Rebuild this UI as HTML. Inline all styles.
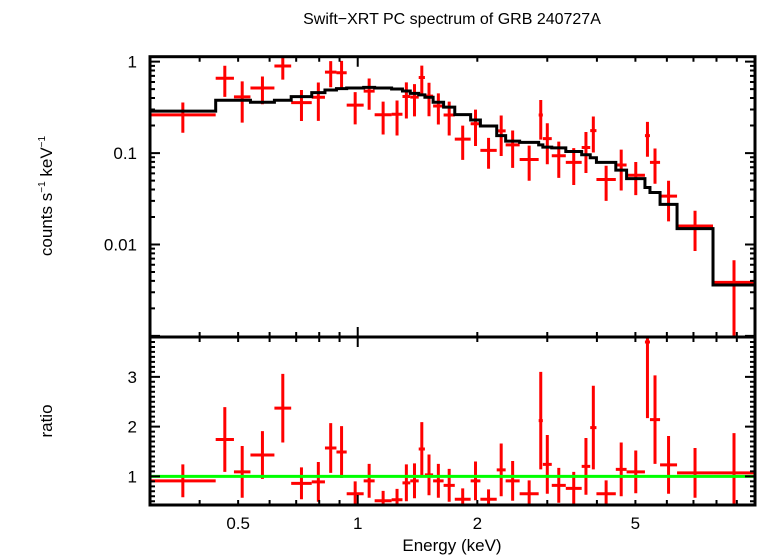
<!DOCTYPE html>
<html><head><meta charset="utf-8"><style>
html,body{margin:0;padding:0;background:#fff;}
svg{display:block;font-family:"Liberation Sans",sans-serif;}
</style></head><body>
<svg id="chart" width="758" height="556" viewBox="0 0 758 556" xmlns="http://www.w3.org/2000/svg">
<text x="452" y="24" text-anchor="middle" font-size="16">Swift−XRT PC spectrum of GRB 240727A</text>
<text transform="translate(52,196) rotate(-90)" text-anchor="middle" font-size="17">counts s<tspan font-size="10" dy="-7">−1</tspan><tspan dy="7"> keV</tspan><tspan font-size="10" dy="-7">−1</tspan></text>
<text transform="translate(52,421) rotate(-90)" text-anchor="middle" font-size="17">ratio</text>
<text x="452" y="551" text-anchor="middle" font-size="17">Energy (keV)</text>
<g id="g"></g>
</svg>
<script>
const binEdges=[0.30,0.439,0.488,0.537,0.617,0.680,0.766,0.827,0.884,0.938,1.035,1.103,1.217,1.296,1.356,1.424,1.476,1.548,1.645,1.755,1.924,2.036,2.238,2.357,2.556,2.854,2.924,3.079,3.340,3.662,3.848,3.989,4.463,4.751,5.284,5.440,5.768,6.365,7.84,10];
const modelValues=[0.288,0.378,0.378,0.36,0.378,0.415,0.459,0.49,0.507,0.515,0.523,0.515,0.502,0.478,0.45,0.433,0.408,0.36,0.318,0.263,0.23,0.198,0.155,0.135,0.131,0.123,0.116,0.114,0.104,0.096,0.089,0.079,0.065,0.0525,0.042,0.037,0.0275,0.0149,0.0036];
const ratioValues=[0.91,1.74,1.09,1.43,2.37,0.86,0.89,1.57,1.49,0.65,0.91,0.51,0.53,0.87,0.91,1.55,1.03,0.91,0.82,0.54,0.91,0.54,1.13,0.91,0.65,2.12,1.24,0.82,0.76,1.2,1.98,0.65,1.14,1.09,3.7,2.14,1.23,1.07,1.07];
const ratioErrors=[0.33,0.65,0.52,0.48,0.69,0.32,0.4,0.5,0.52,0.25,0.34,0.2,0.22,0.37,0.35,0.54,0.41,0.34,0.33,0.22,0.39,0.2,0.53,0.4,0.27,0.98,0.59,0.35,0.33,0.57,0.84,0.27,0.54,0.43,1.53,0.89,0.58,0.5,0.8];
const xTickLabels=[0.5,1,2,5];
const yTopTickLabels=[1,0.1,0.01];
const yBotTickLabels=[1,2,3];

const X0=150,X1=755,TT=56.7,TB=337,BT=337,BB=505;
const xMin=0.3,xMax=10;
const yTopMin=0.000973,yTopMax=1.133;
const rMin=0.425,rMax=3.8;
const xs=e=>X0+(Math.log10(e)-Math.log10(xMin))/(Math.log10(xMax)-Math.log10(xMin))*(X1-X0);
const yt=v=>TB-(Math.log10(v)-Math.log10(yTopMin))/(Math.log10(yTopMax)-Math.log10(yTopMin))*(TB-TT);
const yb=v=>BB-(v-rMin)/(rMax-rMin)*(BB-BT);
const NS='http://www.w3.org/2000/svg';
const g=document.getElementById('g');
function mk(tag,attrs,parent){const el=document.createElementNS(NS,tag);for(const k in attrs)el.setAttribute(k,attrs[k]);(parent||g).appendChild(el);return el;}
const clampT=y=>Math.max(TT,Math.min(TB,y));
const clampB=y=>Math.max(BT,Math.min(BB,y));

// data crosses
const dataG=mk('g',{});


for(let i=0;i<ratioValues.length;i++){
  const lo=binEdges[i],hi=binEdges[i+1],m=modelValues[i],r=ratioValues[i],er=ratioErrors[i];
  const xc=xs(Math.sqrt(lo*hi)),xl=xs(lo),xh=xs(hi);
  const c=m*r,cl=Math.max(m*(r-er),1e-6),ch=m*(r+er);
  const p=mk('path',{d:`M${xl},${clampT(yt(c))}H${xh}M${xc},${clampT(yt(ch))}V${clampT(yt(cl))}`,stroke:'#f00','stroke-width':3,fill:'none'},dataG);
  
  
  const q=mk('path',{d:`M${xl},${clampB(yb(r))}H${xh}M${xc},${clampB(yb(r+er))}V${clampB(yb(r-er))}`,stroke:'#f00','stroke-width':3,fill:'none'},dataG);
  
  
}
// model step
let d='';
for(let i=0;i<modelValues.length;i++){
  const y=yt(modelValues[i]);
  d+=(i===0?`M${xs(binEdges[0])},${y}`:`V${y}`)+`H${xs(binEdges[i+1])}`;
}
const model=mk('path',{d:d,stroke:'#000','stroke-width':3,fill:'none'});


// unity line
const unity=mk('line',{x1:X0,x2:X1,y1:yb(1),y2:yb(1),stroke:'#0f0','stroke-width':3});



// frames
const f1=mk('rect',{x:X0,y:TT,width:X1-X0,height:TB-TT,fill:'none',stroke:'#000','stroke-width':3});


const f2=mk('rect',{x:X0,y:BT,width:X1-X0,height:BB-BT,fill:'none',stroke:'#000','stroke-width':3});



// ticks
let td='';
const xt=[];for(let dec=0.1;dec<=10;dec*=10)for(let k=1;k<10;k++){const v=+(k*dec).toFixed(3);if(v>=xMin&&v<=xMax)xt.push(v);}
xt.forEach(v=>{const x=xs(v);const L=(v===1||v===10)?10:5;
  td+=`M${x},${TT}v${L}M${x},${TB}v${-L}M${x},${BT}v${L}M${x},${BB}v${-L}`;});
[1,0.1,0.01,0.001].forEach(dec=>{for(let k=1;k<10;k++){const v=k*dec;if(v<yTopMin||v>yTopMax)continue;const y=yt(v);const L=k===1?10:5;
  td+=`M${X0},${y}h${L}M${X1},${y}h${-L}`;}});
for(let v=0.5;v<=3.75;v+=0.1){const vv=Math.round(v*10)/10;const y=yb(vv);const L=Number.isInteger(vv)?10:5;
  td+=`M${X0},${y}h${L}M${X1},${y}h${-L}`;}
const ticks=mk('path',{d:td,stroke:'#000','stroke-width':2,fill:'none'});



xTickLabels.forEach(v=>{const t=mk('text',{x:xs(v),y:529,'text-anchor':'middle','font-size':17});t.textContent=String(v);
  
  });
yTopTickLabels.forEach(v=>{const t=mk('text',{x:137,y:yt(v)+6,'text-anchor':'end','font-size':17});t.textContent=String(v);
  
  });
yBotTickLabels.forEach(v=>{const t=mk('text',{x:137,y:yb(v)+6,'text-anchor':'end','font-size':17});t.textContent=String(v);
  
  });
</script>
</body></html>
